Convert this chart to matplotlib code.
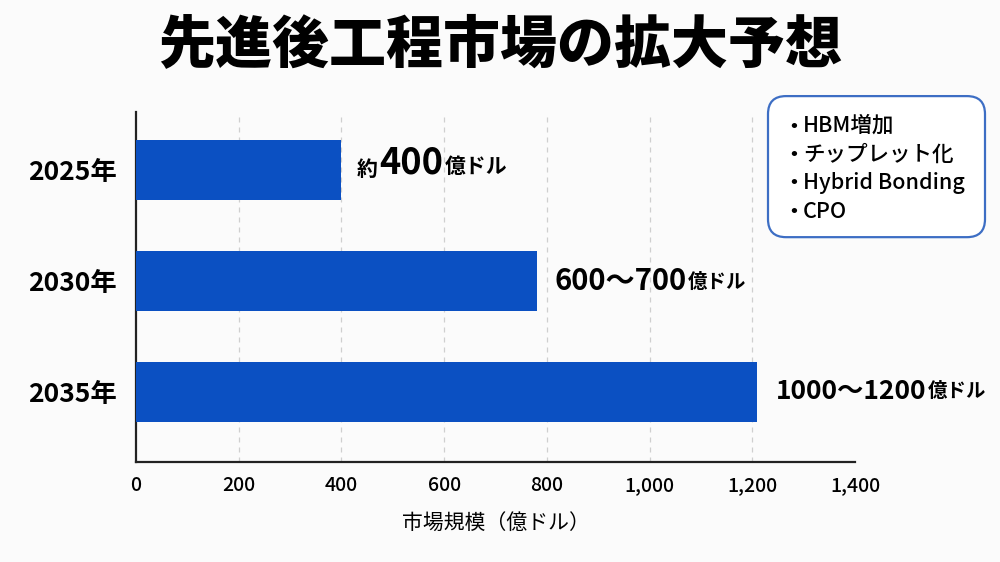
import matplotlib
matplotlib.use('Agg')
import matplotlib.pyplot as plt
from matplotlib.patches import FancyBboxPatch

plt.rcParams['font.family'] = ['Noto Sans CJK JP', 'DejaVu Sans']

# ── data ────────────────────────────────────────────────────────────────
years = ['2025年', '2030年', '2035年']
market_size = [400, 780, 1210]          # bar lengths (億ドル)
label_pre = ['約', '', '']
label_main = ['400', '600～700', '1000～1200']
label_unit = '億ドル'
x_ticks = [0, 200, 400, 600, 800, 1000, 1200, 1400]
grid_ticks = [200, 400, 600, 800, 1000, 1200]
drivers = ['HBM増加', 'チップレット化', 'Hybrid Bonding', 'CPO']

BLUE = '#0B50C2'
BG = '#fbfbfb'

fig = plt.figure(figsize=(10, 5.62), dpi=100, facecolor=BG)
ax = fig.add_axes([0.136, 0.178, 0.719, 0.623], facecolor=BG)

ypos = list(range(len(years)))
ax.barh(ypos, market_size, height=0.54, color=BLUE, zorder=3)

for g in grid_ticks:
    ax.axvline(g, color='#cfcfcf', lw=0.9, ls=(0, (4, 4)), zorder=1)

ax.set_xlim(0, 1400)
ax.set_ylim(2.63, -0.52)
ax.set_xticks(x_ticks)
ax.set_xticklabels([f'{v:,}' for v in x_ticks], fontsize=14, fontweight='medium')
ax.set_yticks(ypos)
ax.set_yticklabels(years, fontsize=19, fontweight='bold')
ax.tick_params(length=0, pad=10)
ax.tick_params(axis='y', pad=14)
for s in ['top', 'right']:
    ax.spines[s].set_visible(False)
for s in ['left', 'bottom']:
    ax.spines[s].set_linewidth(1.6)
    ax.spines[s].set_color('#222222')
ax.set_xlabel('市場規模（億ドル）', fontsize=15, labelpad=12)

# bar end labels: small prefix, large number, small unit
main_size = [26, 21, 19]
unit_size = [15, 14, 14]
for i, (y, v, pre, main) in enumerate(zip(ypos, market_size, label_pre, label_main)):
    if pre:
        anchor = ax.annotate(pre, xy=(v, y), xytext=(11, 0), textcoords='offset points',
                             va='center', ha='left', fontsize=15, fontweight='bold')
        num = ax.annotate(main, xy=(1, 0), xycoords=anchor, xytext=(1, -1),
                          textcoords='offset points', va='bottom', ha='left',
                          fontsize=main_size[i], fontweight='bold')
    else:
        num = ax.annotate(main, xy=(v, y), xytext=(13, 0), textcoords='offset points',
                          va='center', ha='left', fontsize=main_size[i], fontweight='bold')
    ax.annotate(label_unit, xy=(1, 0), xycoords=num, xytext=(1, 3),
                textcoords='offset points', va='bottom', ha='left',
                fontsize=unit_size[i], fontweight='bold')

# title
fig.text(0.5, 0.918, '先進後工程市場の拡大予想', ha='center', va='center',
         fontsize=41, fontweight='black')

# rounded box listing growth drivers
box = FancyBboxPatch((0.768, 0.578), 0.217, 0.251, transform=fig.transFigure,
                     boxstyle='round,pad=0,rounding_size=0.018', mutation_aspect=1.78,
                     facecolor='white', edgecolor='#3D6EC4', lw=1.6)
fig.patches.append(box)
for i, d in enumerate(drivers):
    yy = 1 - (126 + i * 28.5) / 562
    fig.text(0.783, yy, '・', ha='left', va='center', fontsize=15, fontweight='bold')
    fig.text(0.803, yy, d, ha='left', va='center', fontsize=15.5, fontweight='medium')

fig.savefig('out.png', dpi=100, facecolor=fig.get_facecolor())
